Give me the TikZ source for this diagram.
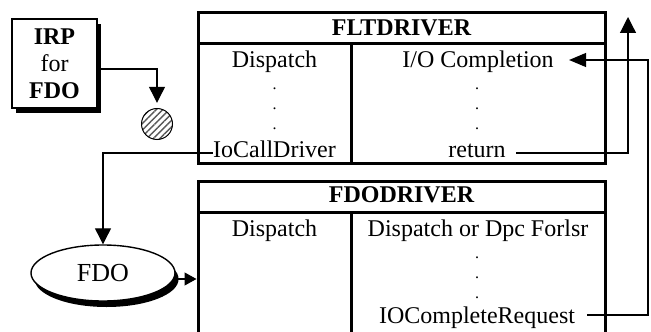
\documentclass[tikz,border=0pt]{standalone}
\usepackage{fontspec}
\setmainfont{Liberation Serif}
\usetikzlibrary{arrows.meta,shadows,patterns.meta,calc,shapes.geometric}
\begin{document}
\begin{tikzpicture}[x=0.5pt,y=-0.5pt,
  every node/.style={font=\fontsize{12}{13.5}\selectfont, inner sep=0pt},
  drvbox/.style={draw, line width=1.5pt, rectangle},
  inline/.style={line width=1.5pt},
  lbl/.style={anchor=base},
  dotlbl/.style={anchor=base, font=\fontsize{8}{9}\selectfont, text height=1.5pt, text depth=0pt},
  hdr/.style={anchor=base, font=\fontsize{12}{13.5}\selectfont\bfseries},
  conn/.style={line width=0.6pt},
  tip/.style={-{Triangle[length=8pt,width=8pt]}},
  smalltip/.style={-{Triangle[length=6pt,width=6.5pt]}}
]
\path[use as bounding box, clip] (0,0) rectangle (651,331);

% IRP box
\node[draw, line width=0.6pt, fill=white, minimum width=42.5pt, minimum height=44.5pt,
      align=center, drop shadow={shadow xshift=2pt, shadow yshift=-2.5pt, opacity=1, fill=black}]
  (irp) at (54.5,63.5) {\textbf{IRP}\\for\\\textbf{FDO}};

% token
\node[draw, circle, line width=0.5pt, minimum size=15.5pt,
      preaction={fill=white},
      pattern={Lines[angle=45,distance=2.3pt,line width=0.7pt]}, pattern color=black!65]
  (tok) at (157,124) {};

% FLTDRIVER box
\node[drvbox, minimum width=203.5pt, minimum height=75pt] (flt) at (401.5,88) {};
\draw[inline] (198,44) -- (605,44);
\draw[inline] (351,44) -- (351,163);
\node[hdr] (fltT) at (401.5,36) {FLTDRIVER};
\node[lbl] (fltD) at (274.5,68) {Dispatch};
\node[lbl] (fltIO) at (478,68) {I/O Completion};
\node[dotlbl] (fd1) at (274.5,89.5) {.};
\node[dotlbl] (fd2) at (274.5,109.5) {.};
\node[dotlbl] (fd3) at (274.5,130) {.};
\node[dotlbl] (fr1) at (477,89.5) {.};
\node[dotlbl] (fr2) at (477,109.5) {.};
\node[dotlbl] (fr3) at (477,130) {.};
\node[lbl] (iocall) at (274.5,157) {IoCallDriver};
\node[lbl] (ret) at (477,157) {return};

% FDODRIVER box
\node[drvbox, minimum width=203.5pt, minimum height=80pt] (fdobox) at (401.5,261) {};
\draw[inline] (198,212) -- (605,212);
\draw[inline] (351,212) -- (351,345);
\node[hdr] (fdoT) at (401.5,202) {FDODRIVER};
\node[lbl] (fdoD) at (274.5,236) {Dispatch};
\node[lbl] (fdoDD) at (478,236) {Dispatch or Dpc Forlsr};
\node[dotlbl] (gd1) at (477,258) {.};
\node[dotlbl] (gd2) at (477,278) {.};
\node[dotlbl] (gd3) at (477,298) {.};
\node[lbl] (iocr) at (477,323) {IOCompleteRequest};

% FDO ellipse
\node[draw, ellipse, line width=0.7pt, fill=white, minimum width=72pt, minimum height=28pt,
      font=\fontsize{13}{15}\selectfont,
      drop shadow={shadow xshift=1.8pt, shadow yshift=-3pt, opacity=1, fill=black}]
  (fdo) at (103,273) {FDO};

% connectors
\draw[conn, tip, shorten >=2.5pt] ([yshift=-2.75pt]irp.east) -| (tok.north);

\coordinate (ics) at ([yshift=2pt]iocall.base west);
\draw[conn, tip] (ics) -| (fdo.north);

\coordinate (fa) at ([yshift=-3pt]fdo.east);
\draw[conn, smalltip] (fa) -- (fa -| fdobox.west);

\coordinate (rs) at ([xshift=5pt,yshift=2pt]ret.base east);
\coordinate (ux) at (628,17);
\draw[conn, tip] (rs) -| (ux);

\coordinate (cs) at ([xshift=6pt,yshift=4pt]iocr.base east);
\coordinate (ce) at ([xshift=7.5pt,yshift=4pt]fltIO.base east);
\coordinate (rx) at (648,0);
\draw[conn, -{Triangle[length=8.5pt,width=7pt]}] (cs) -| (rx |- ce) -- (ce);
\end{tikzpicture}
\end{document}
